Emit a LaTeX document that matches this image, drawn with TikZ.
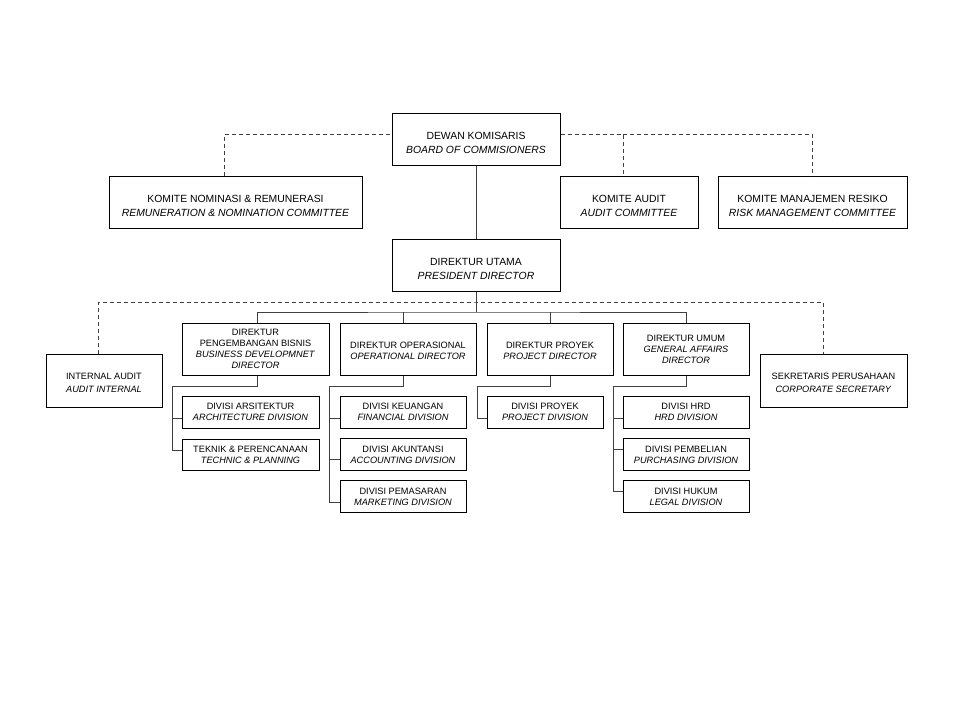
\documentclass[tikz,border=0pt]{standalone}
\usepackage{fontspec}
\setmainfont{Liberation Sans}
\newcommand{\toplift}{\rule{0pt}{15.4pt}}
\newcommand{\midlift}{\rule{0pt}{10.6pt}}
\begin{document}
\begin{tikzpicture}[x=1pt,y=-1pt,
  box/.style 2 args={draw=black, line width=1pt, fill=white, inner sep=0pt,
    align=center, minimum width=#1, minimum height=#2},
  topfont/.style={font=\fontsize{10.4}{14}\selectfont},
  dirfont/.style={font=\fontsize{9.2}{11}\selectfont},
  subfont/.style={font=\fontsize{9.2}{11}\selectfont},
  sidefont/.style={font=\fontsize{9.2}{12.5}\selectfont},
  link/.style={draw=black!75, line width=1pt},
  dashlink/.style={draw=black!75, line width=1pt, dash pattern=on 4pt off 3pt}]
\fill[white] (0,0) rectangle (960,720);
\useasboundingbox (0,0) rectangle (960,720);

% top level
\node[box={168pt}{52pt}, topfont] (dk) at (476,139) {\toplift DEWAN KOMISARIS\\\textit{BOARD OF COMMISIONERS}};
\node[box={253pt}{52pt}, topfont] (knr) at (235.5,202) {\toplift KOMITE NOMINASI \& REMUNERASI\\\textit{REMUNERATION \& NOMINATION COMMITTEE}};
\node[box={138pt}{52pt}, topfont] (ka) at (629,202) {\toplift KOMITE AUDIT\\\textit{AUDIT COMMITTEE}};
\node[box={189pt}{52pt}, topfont] (kmr) at (812.5,202) {\toplift KOMITE MANAJEMEN RESIKO\\\textit{RISK MANAGEMENT COMMITTEE}};
\node[box={168pt}{52pt}, topfont] (du) at (476,265) {\toplift DIREKTUR UTAMA\\\textit{PRESIDENT DIRECTOR}};

% second level
\node[box={116pt}{53pt}, sidefont] (ia) at (104,380.5) {\midlift INTERNAL AUDIT\\\textit{AUDIT INTERNAL}};
\node[box={147pt}{53pt}, sidefont] (sp) at (833.5,380.5) {\midlift SEKRETARIS PERUSAHAAN\\\textit{CORPORATE SECRETARY}};
\node[box={147pt}{52pt}, dirfont] (dpb) at (255.5,349) {DIREKTUR\\PENGEMBANGAN BISNIS\\\textit{BUSINESS DEVELOPMNET}\\\textit{DIRECTOR}};
\node[box={136pt}{52pt}, dirfont] (dop) at (408,349) {\midlift DIREKTUR OPERASIONAL\\\textit{OPERATIONAL DIRECTOR}};
\node[box={126pt}{52pt}, dirfont] (dpr) at (550,349) {\midlift DIREKTUR PROYEK\\\textit{PROJECT DIRECTOR}};
\node[box={126pt}{52pt}, dirfont] (dum) at (686,349) {DIREKTUR UMUM\\\textit{GENERAL AFFAIRS}\\\textit{DIRECTOR}};

% divisions
\node[box={137pt}{32pt}, subfont] (ars) at (250.5,412) {DIVISI ARSITEKTUR\\\textit{ARCHITECTURE DIVISION}};
\node[box={137pt}{31pt}, subfont] (tek) at (250.5,454.5) {TEKNIK \& PERENCANAAN\\\textit{TECHNIC \& PLANNING}};
\node[box={126pt}{32pt}, subfont] (keu) at (403,412) {DIVISI KEUANGAN\\\textit{FINANCIAL DIVISION}};
\node[box={126pt}{32pt}, subfont] (aku) at (403,454.5) {DIVISI AKUNTANSI\\\textit{ACCOUNTING DIVISION}};
\node[box={126pt}{32pt}, subfont] (pem) at (403,496.5) {DIVISI PEMASARAN\\\textit{MARKETING DIVISION}};
\node[box={116pt}{32pt}, subfont] (dvp) at (545,412) {DIVISI PROYEK\\\textit{PROJECT DIVISION}};
\node[box={126pt}{32pt}, subfont] (hrd) at (686,412) {DIVISI HRD\\\textit{HRD DIVISION}};
\node[box={126pt}{32pt}, subfont] (pbl) at (686,454.5) {DIVISI PEMBELIAN\\\textit{PURCHASING DIVISION}};
\node[box={126pt}{32pt}, subfont] (huk) at (686,496.5) {DIVISI HUKUM\\\textit{LEGAL DIVISION}};

% coordinates
\coordinate (dh1) at (476,134);
\coordinate (dh2) at (476,302);
\coordinate (bus) at (476,312);
\coordinate (pbK) at (172,386);
\coordinate (opK) at (329,386);
\coordinate (prK) at (477,386);
\coordinate (umK) at (613,386);
\coordinate (dkW) at ([yshift=5pt]dk.west);
\coordinate (dkE) at ([yshift=5pt]dk.east);
\coordinate (knrN) at ([xshift=-11pt]knr.north);
\coordinate (kaN) at ([xshift=-6pt]ka.north);
\coordinate (iaN) at ([xshift=-6pt]ia.north);
\coordinate (spN) at ([xshift=-10.5pt]sp.north);
\coordinate (dpbN) at ([xshift=1.5pt]dpb.north);
\coordinate (dpbS) at ([xshift=1.5pt]dpb.south);
\coordinate (dopN) at ([xshift=-5pt]dop.north);
\coordinate (dopS) at ([xshift=-5pt]dop.south);
\coordinate (arsW) at ([yshift=-6pt]ars.west);
\coordinate (tekW) at ([yshift=4.5pt]tek.west);
\coordinate (keuW) at ([yshift=-6pt]keu.west);
\coordinate (akuW) at ([yshift=-4.5pt]aku.west);
\coordinate (pemW) at ([yshift=-5.5pt]pem.west);
\coordinate (dvpW) at ([yshift=-6pt]dvp.west);
\coordinate (hrdW) at ([yshift=-6pt]hrd.west);
\coordinate (pblW) at ([yshift=5pt]pbl.west);
\coordinate (hukW) at ([yshift=5.5pt]huk.west);

% top connectors
\draw[link] (dk.south) -- (du.north);
\draw[dashlink] (knrN) |- (dkW);
\draw[dashlink] (dkE) -| (kaN);
\draw[dashlink] (kaN |- dh1) -| (kmr.north);

% second-level connectors
\draw[dashlink] (iaN) |- (dh2) -| (spN);
\draw[link] (du.south) -- (bus);
\draw[link] (dpbN) |- (bus) -| (dum.north);
\draw[link] (dopN) -- (dopN |- bus);
\draw[link] (dpr.north) -- (dpr.north |- bus);

% division connectors
\draw[link] (dpbS) |- (pbK) |- (tekW);
\draw[link] (pbK |- arsW) -- (arsW);

\draw[link] (dopS) |- (opK) |- (pemW);
\draw[link] (opK |- keuW) -- (keuW);
\draw[link] (opK |- akuW) -- (akuW);

\draw[link] (dpr.south) |- (prK) |- (dvpW);

\draw[link] (dum.south) |- (umK) |- (hukW);
\draw[link] (umK |- hrdW) -- (hrdW);
\draw[link] (umK |- pblW) -- (pblW);
\end{tikzpicture}
\end{document}
